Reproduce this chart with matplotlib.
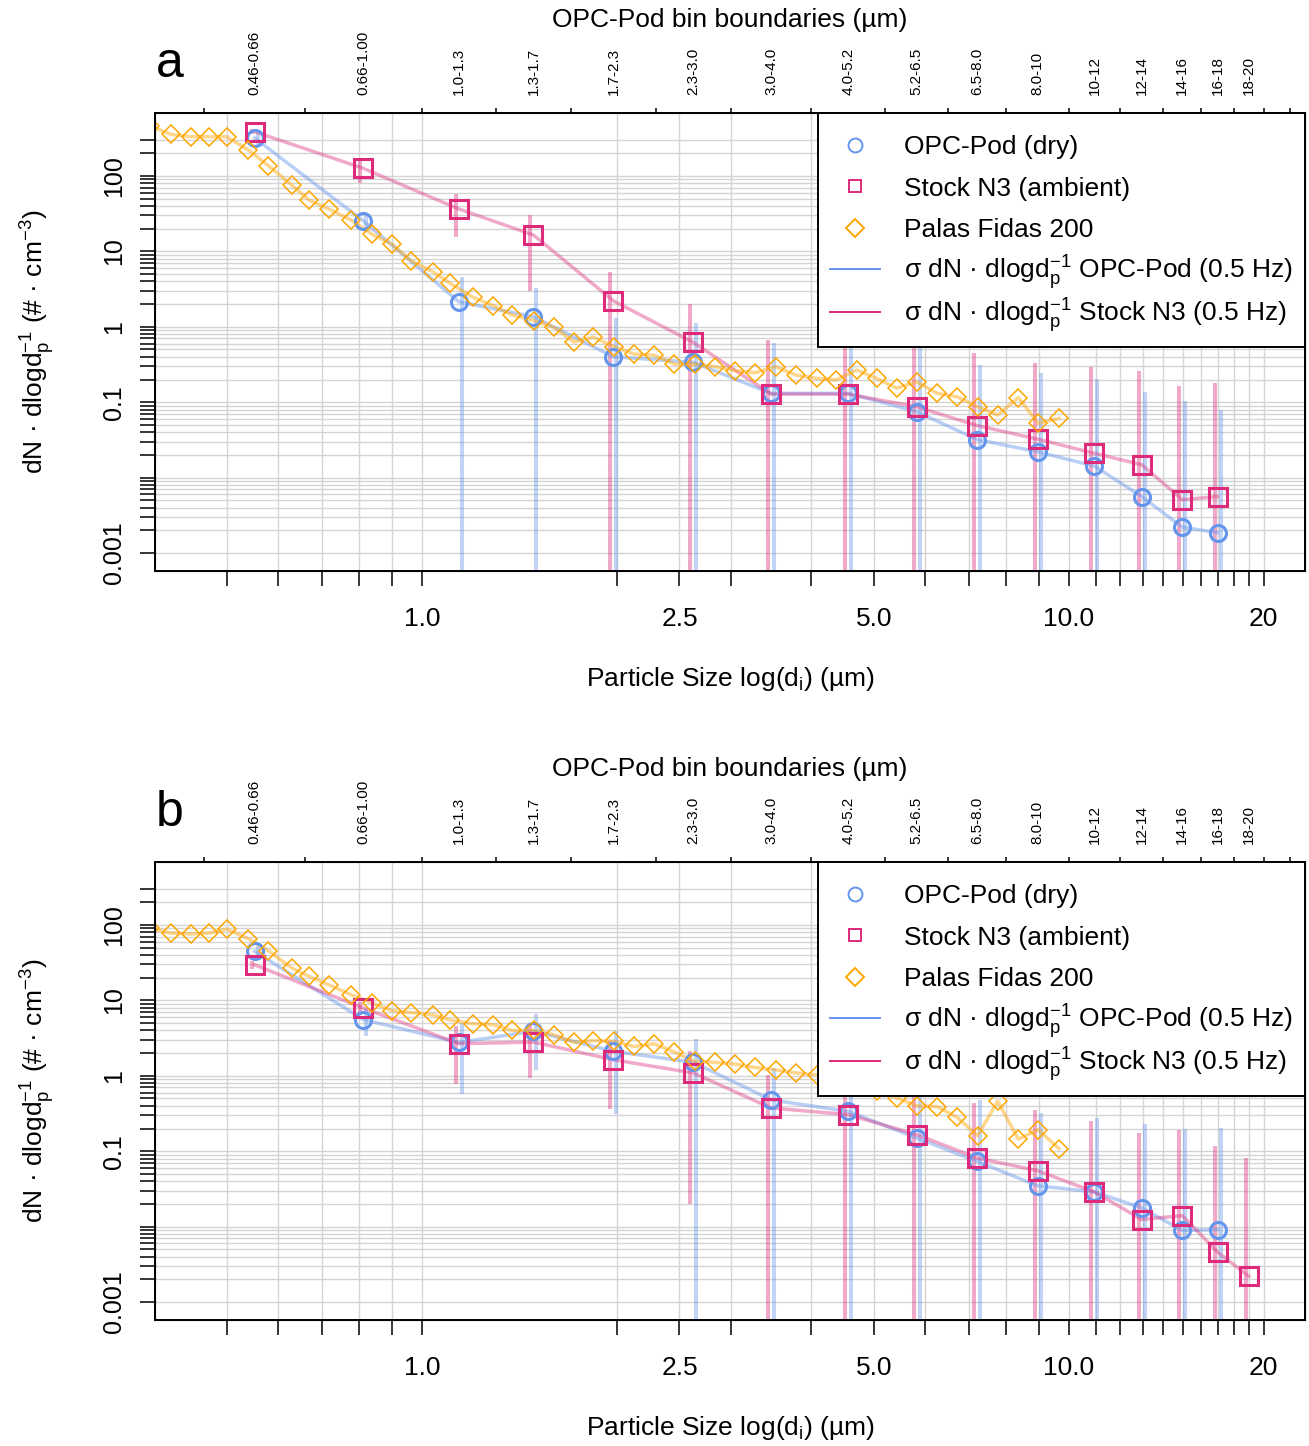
import numpy as np
import matplotlib.pyplot as plt
from matplotlib.lines import Line2D
from matplotlib.legend_handler import HandlerLine2D
from matplotlib.ticker import NullLocator, NullFormatter
from matplotlib.transforms import offset_copy

plt.rcParams['font.family'] = ['Liberation Sans', 'DejaVu Sans']
plt.rcParams['mathtext.fontset'] = 'custom'
plt.rcParams['mathtext.rm'] = 'Liberation Sans'
plt.rcParams['mathtext.it'] = 'Liberation Sans:italic'
plt.rcParams['mathtext.default'] = 'regular'

# OPC-Pod bins (um)
bin_edges = [0.46, 0.66, 1.0, 1.3, 1.7, 2.3, 3.0, 4.0, 5.2, 6.5, 8.0, 10, 12, 14, 16, 18, 20, 22]
bin_labels = ["0.46-0.66", "0.66-1.00", "1.0-1.3", "1.3-1.7", "1.7-2.3", "2.3-3.0",
              "3.0-4.0", "4.0-5.2", "5.2-6.5", "6.5-8.0", "8.0-10", "10-12",
              "12-14", "14-16", "16-18", "18-20"]
bin_mid = [0.551, 0.812, 1.140, 1.487, 1.977, 2.627, 3.464, 4.561, 5.814, 7.211,
           8.944, 10.95, 12.96, 14.97, 16.97, 18.97]

# Palas Fidas 200 channel diameters (um)
palas_d = [0.380, 0.409, 0.439, 0.469, 0.499, 0.539, 0.579, 0.629, 0.669, 0.718,
           0.777, 0.838, 0.900, 0.962, 1.039, 1.105, 1.200, 1.289, 1.379, 1.490,
           1.600, 1.718, 1.840, 1.981, 2.127, 2.284, 2.455, 2.642, 2.838, 3.047,
           3.272, 3.522, 3.781, 4.074, 4.364, 4.697, 5.045, 5.417, 5.816, 6.258,
           6.722, 7.225, 7.759, 8.350, 8.966, 9.650]

nan = np.nan

# panel a
opc_a = [320, 25.3, 2.15, 1.36, 0.40, 0.338, 0.131, 0.131, 0.075, 0.032, 0.022,
         0.0142, 0.0056, 0.0022, 0.00186, nan]
opc_sd_a = [60, 7, 2.45, 1.9, 0.9, 0.8, 0.47, 0.6, 0.55, 0.28, 0.22, 0.19, 0.13,
            0.10, 0.077, nan]
n3_a = [387, 126, 36.5, 16.5, 2.2, 0.62, 0.128, 0.128, 0.087, 0.049, 0.0324,
        0.021, 0.0148, 0.0051, 0.0056, nan]
n3_sd_a = [30, 45, 21, 13.5, 3.1, 1.38, 0.55, 0.7, 0.6, 0.40, 0.30, 0.275, 0.247,
           0.159, 0.176, nan]
palas_a = [460, 357, 332, 332, 332, 221, 137, 76, 48, 36.5, 26, 16.8, 12.4, 7.5,
           5.4, 3.78, 2.46, 1.91, 1.43, 1.21, 0.98, 0.63, 0.73, 0.545, 0.435, 0.42,
           0.321, 0.319, 0.296, 0.262, 0.246, 0.296, 0.23, 0.207, 0.197, 0.267,
           0.207, 0.153, 0.187, 0.131, 0.118, 0.087, 0.0676, 0.115, 0.0525, 0.061]

# panel b
opc_b = [44.7, 5.55, 2.77, 3.9, 2.11, 1.51, 0.48, 0.337, 0.150, 0.0733, 0.0348,
         0.0288, 0.0177, 0.0089, 0.0091, nan]
opc_sd_b = [8, 2.2, 2.2, 2.7, 1.8, 1.57, 0.79, 0.9, 0.7, 0.41, 0.29, 0.25, 0.214,
            0.188, 0.194, nan]
n3_b = [29.7, 7.9, 2.67, 2.8, 1.63, 1.09, 0.374, 0.305, 0.166, 0.0813, 0.0551,
        0.0288, 0.0124, 0.014, 0.0046, 0.00219]
n3_sd_b = [4, 1.5, 1.9, 1.87, 1.27, 1.07, 0.66, 0.9, 0.7, 0.354, 0.30, 0.225, 0.16,
           0.179, 0.114, 0.079]
palas_b = [91, 78, 76, 78, 88.5, 65.8, 45.6, 26.9, 20.8, 16.1, 11.9, 9.2, 7.3, 6.9,
           6.46, 5.5, 4.9, 4.76, 4.0, 4.0, 3.5, 2.77, 2.92, 2.86, 2.45, 2.66, 2.07,
           1.55, 1.51, 1.43, 1.29, 1.2, 1.09, 1.03, 0.98, 0.82, 0.62, 0.51, 0.40,
           0.39, 0.28, 0.16, 0.46, 0.145, 0.193, 0.108]

x_ticks = [0.5, 0.6, 0.7, 0.8, 0.9, 1.0, 2.0, 2.5, 3, 4, 5, 6, 7, 8, 9, 10,
           11, 12, 13, 14, 15, 16, 17, 18, 19, 20]
x_ticklabels = {1.0: "1.0", 2.5: "2.5", 5: "5.0", 10: "10.0", 20: "20"}
y_ticks = [k * 10.0 ** e for e in range(-3, 2) for k in range(1, 10)] + [100, 200, 300]
y_ticklabels = {0.001: "0.001", 0.1: "0.1", 1: "1", 10: "10", 100: "100"}

blue = '#6495ED'
pink = '#DD2A7B'
orange = '#FFA500'

ylab = 'dN · dlogd$_p^{-1}$ (# · cm$^{-3}$)'
leg_labels = ['OPC-Pod (dry)', 'Stock N3 (ambient)', 'Palas Fidas 200',
              'σ dN · dlogd$_p^{-1}$ OPC-Pod (0.5 Hz)',
              'σ dN · dlogd$_p^{-1}$ Stock N3 (0.5 Hz)']
LEG_FS = 19

W, H = 1309, 1446
fig = plt.figure(figsize=(W / 100, H / 100), dpi=100)


def err_limits(vals, sd):
    v = np.asarray(vals, float)
    s = np.asarray(sd, float)
    lo = v - s
    lo = np.where(lo > 0, lo, 1e-9)
    return lo, v + s


def centre_handle(h, orig):
    # keep legend symbols level with the middle of the label text
    h.update_from(orig)
    h.set_ydata(np.full(len(h.get_xdata()), 0.36 * LEG_FS))


def panel(rect, letter, opc, opc_sd, n3, n3_sd, palas, letter_y):
    ax = fig.add_axes(rect)
    ax.set_xscale('log')
    ax.set_yscale('log')
    ax.set_xlim(0.3866, 23.17)
    ax.set_ylim(5.77e-4, 6.85e2)

    # sigma bars, nudged a few pixels either side of the bin centre
    tb = offset_copy(ax.transData, fig=fig, x=3, y=0, units='dots')
    tp = offset_copy(ax.transData, fig=fig, x=-3, y=0, units='dots')
    lo, hi = err_limits(opc, opc_sd)
    ax.vlines(bin_mid, lo, hi, color=blue, alpha=0.4, lw=2.9, transform=tb, zorder=2)
    lo, hi = err_limits(n3, n3_sd)
    ax.vlines(bin_mid, lo, hi, color=pink, alpha=0.4, lw=2.9, transform=tp, zorder=2)

    ax.plot(bin_mid, opc, color=blue, alpha=0.45, lw=2.5, zorder=3)
    ax.plot(bin_mid, n3, color=pink, alpha=0.4, lw=2.5, zorder=3)
    ax.plot(palas_d, palas, color=orange, alpha=0.45, lw=2.5, zorder=3)

    ax.plot(bin_mid, opc, ls='none', marker='o', ms=11.5, mfc='none', mec=blue,
            mew=2.2, zorder=4)
    ax.plot(bin_mid, n3, ls='none', marker='s', ms=13, mfc='none', mec=pink,
            mew=2.2, zorder=4)
    ax.plot(palas_d, palas, ls='none', marker='D', ms=9, mfc='none', mec=orange,
            mew=1.1, zorder=4)

    ax.set_xticks(x_ticks, [x_ticklabels.get(t, "") for t in x_ticks])
    ax.set_yticks(y_ticks, [y_ticklabels.get(round(t, 6), "") for t in y_ticks])
    ax.xaxis.set_minor_locator(NullLocator())
    ax.yaxis.set_minor_locator(NullLocator())
    ax.tick_params(axis='both', direction='out', length=10.8, width=1.1)
    ax.tick_params(axis='x', labelsize=19, pad=15)
    ax.tick_params(axis='y', labelsize=18, pad=10, labelrotation=90)
    for lab in ax.get_yticklabels():
        lab.set_va('center')
    ax.grid(True, color='#d4d4d4', lw=1.0)
    ax.set_axisbelow(True)
    for sp in ax.spines.values():
        sp.set_linewidth(1.4)

    ax.set_xlabel('Particle Size log(d$_i$) (µm)', fontsize=19)
    ax.xaxis.set_label_coords(0.5, -(679 - 571) / 458)
    ax.xaxis.label.set_va('center')
    ax.set_ylabel(ylab, fontsize=19)
    ax.yaxis.set_label_coords(-(155 - 38) / 1150, 0.5)
    ax.yaxis.label.set_va('center')

    # top axis: OPC-Pod bin boundaries
    top = ax.twiny()
    top.set_xscale('log')
    top.set_xlim(ax.get_xlim())
    top.set_xticks(bin_mid, bin_labels)
    top.set_xticks(bin_edges, minor=True)
    top.xaxis.set_minor_formatter(NullFormatter())
    top.tick_params(which='major', length=0, labelsize=11, labelrotation=90, pad=13)
    top.tick_params(which='minor', length=3.6, width=1.1)
    top.set_xlabel('OPC-Pod bin boundaries (µm)', fontsize=19)
    top.xaxis.set_label_coords(0.5, 1 + (113 - 20) / 458)
    top.xaxis.label.set_va('center')

    handles = [
        Line2D([], [], ls='none', marker='o', ms=10, mfc='none', mec=blue, mew=1.4),
        Line2D([], [], ls='none', marker='s', ms=9, mfc='none', mec=pink, mew=1.4),
        Line2D([], [], ls='none', marker='D', ms=9, mfc='none', mec=orange, mew=1.4),
        Line2D([], [], color=blue, lw=1.4),
        Line2D([], [], color=pink, lw=1.4),
    ]
    leg = top.legend(handles, leg_labels, loc='upper right', bbox_to_anchor=(1, 1),
                     borderaxespad=0, fancybox=False, edgecolor='black',
                     framealpha=1, fontsize=LEG_FS, handlelength=1.9,
                     handleheight=2.05, handletextpad=0.9, labelspacing=0.0,
                     borderpad=0.45,
                     handler_map={Line2D: HandlerLine2D(update_func=centre_handle)})
    leg.get_frame().set_linewidth(1.4)

    fig.text(156 / W, 1 - letter_y / H, letter, fontsize=36, va='baseline')
    return ax


panel([155 / W, 1 - 571 / H, 1150 / W, 458 / H], 'a',
      opc_a, opc_sd_a, n3_a, n3_sd_a, palas_a, 77)
panel([155 / W, 1 - 1320 / H, 1150 / W, 458 / H], 'b',
      opc_b, opc_sd_b, n3_b, n3_sd_b, palas_b, 826)

fig.savefig('out.png', dpi=100)
